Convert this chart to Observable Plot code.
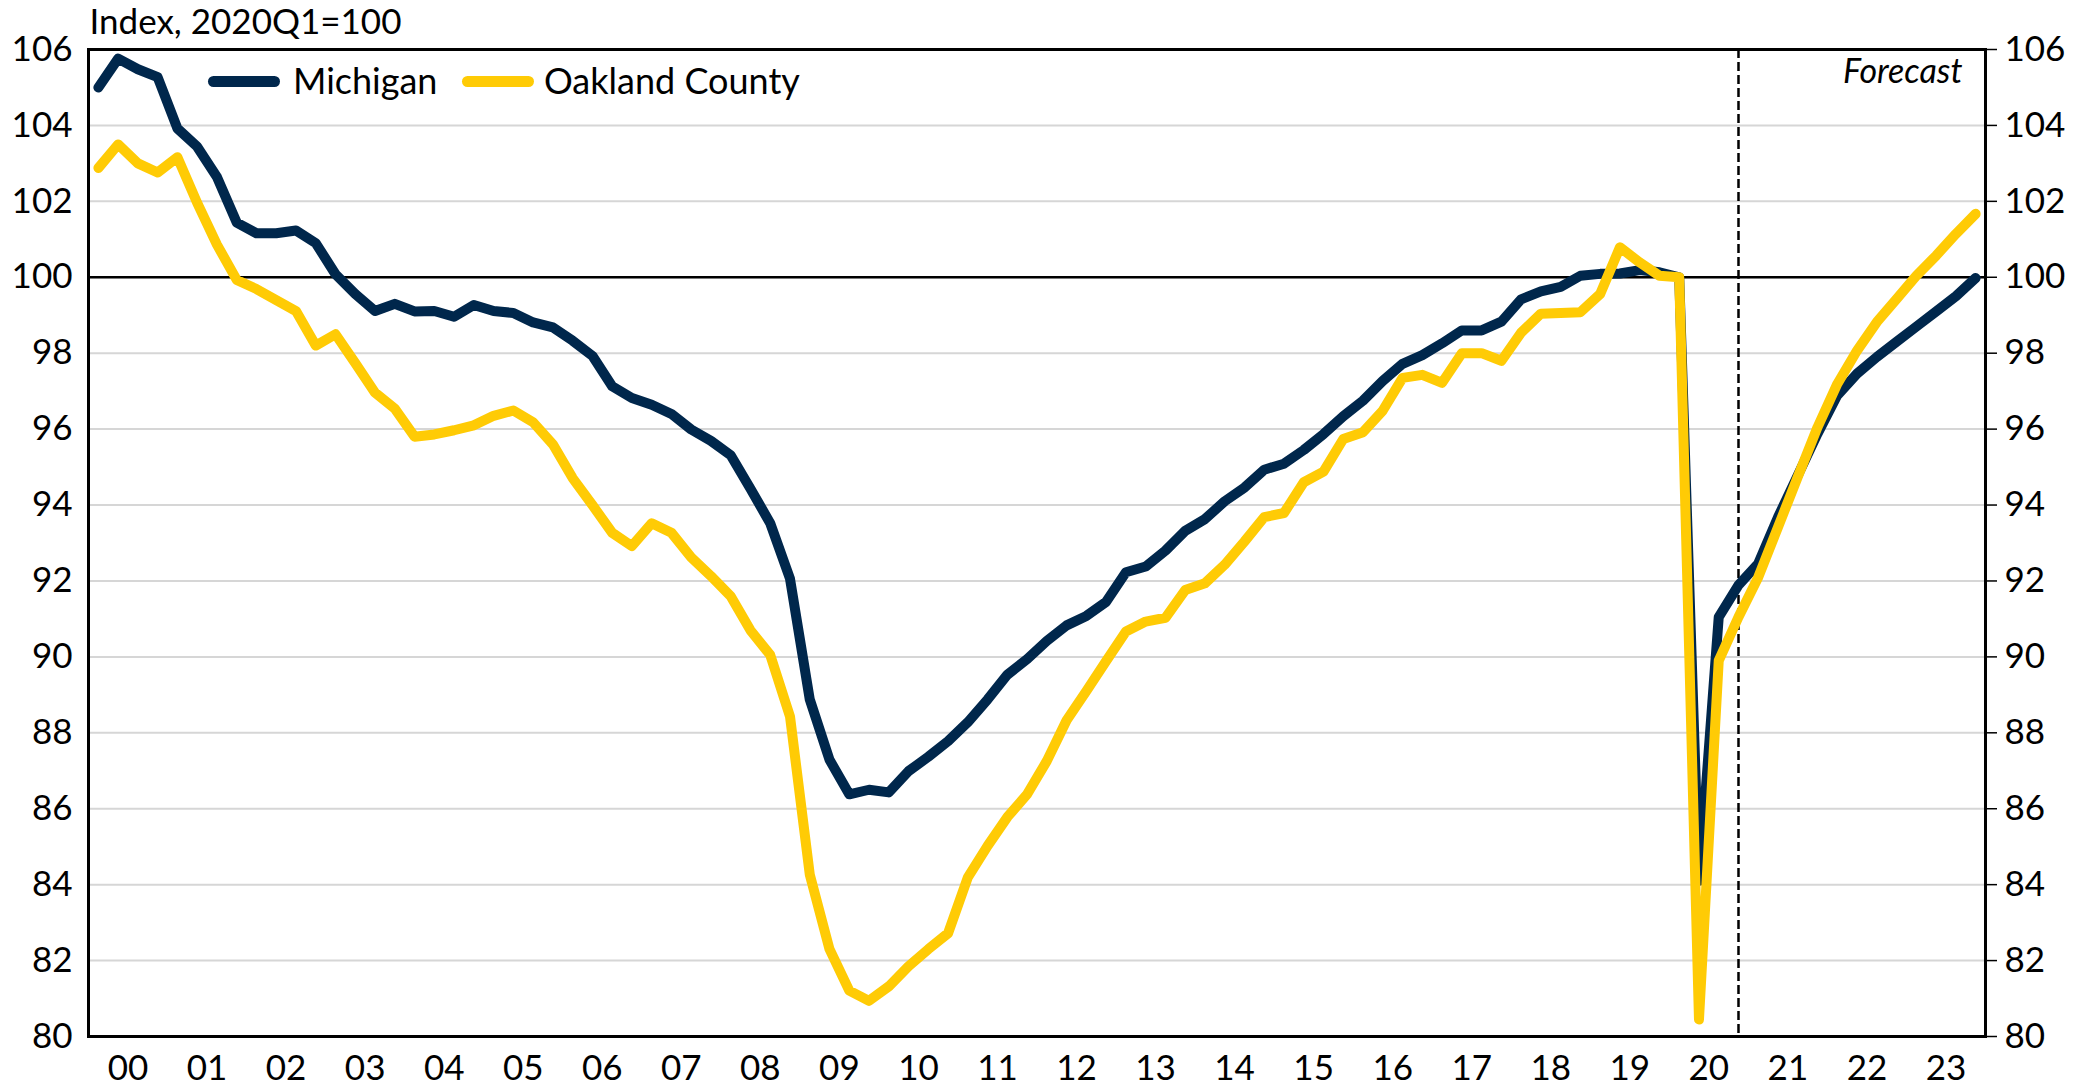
<!DOCTYPE html>
<html>
<head>
<meta charset="utf-8">
<script src="https://cdn.jsdelivr.net/npm/d3@7"></script>
<script src="https://cdn.jsdelivr.net/npm/@observablehq/plot@0.6"></script>
<style>
  html, body { margin: 0; padding: 0; background: #fff; }
  #wrap { position: relative; width: 2081px; height: 1086px; font-family: Lato, "Open Sans", sans-serif; }
  .lg { position: absolute; top: 0; font-size: 36px; color: #000; line-height: 1; }
  .sw { position: absolute; height: 11px; border-radius: 5.5px; }
</style>
</head>
<body>
<div id="wrap"></div>
<script>
// ---- data ----
const years = [2000,2001,2002,2003,2004,2005,2006,2007,2008,2009,2010,2011,2012,2013,2014,2015,2016,2017,2018,2019,2020,2021,2022,2023];
const quarterNums = [1,2,3,4];
const michigan = [
  105.0,105.76,105.48,105.27, 103.92,103.44,102.64,101.44, 101.16,101.16,101.23,100.9, 100.08,99.56,99.11,99.3,
  99.1,99.11,98.96,99.27, 99.11,99.06,98.81,98.68, 98.33,97.93,97.13,96.82, 96.64,96.4,95.99,95.69,
  95.31,94.43,93.52,92.06, 88.88,87.29,86.38,86.5, 86.43,86.99,87.37,87.78, 88.28,88.88,89.53,89.94,
  90.42,90.83,91.08,91.45, 92.23,92.38,92.8,93.32, 93.63,94.1,94.46,94.93, 95.09,95.45,95.87,96.34,
  96.75,97.27,97.72,97.95, 98.26,98.6,98.6,98.83, 99.42,99.63,99.75,100.04, 100.09,100.1,100.19,100.13,
  100.0,84.1,91.05,91.89, 92.46,93.68,94.78,95.88, 96.89,97.46,97.9,98.3, 98.7,99.1,99.5,99.98
];
const oakland = [
  102.88,103.5,103.0,102.76, 103.16,101.96,100.86,99.93, 99.69,99.4,99.11,98.2, 98.5,97.74,96.96,96.54,
  95.8,95.86,95.97,96.1, 96.35,96.49,96.18,95.6, 94.71,94.0,93.27,92.92, 93.52,93.27,92.62,92.13,
  91.6,90.7,90.05,88.43, 84.27,82.3,81.21,80.94, 81.32,81.85,82.3,82.72, 84.19,85.02,85.78,86.38,
  87.26,88.33,89.1,89.89, 90.67,90.93,91.03,91.76, 91.94,92.43,93.04,93.68, 93.79,94.6,94.88,95.74,
  95.92,96.49,97.35,97.43, 97.22,98.0,98.0,97.8, 98.54,99.04,99.06,99.08, 99.56,100.79,100.39,100.04,
  100.0,80.45,89.9,91.05, 92.1,93.42,94.74,96.05, 97.19,98.07,98.82,99.43, 100.04,100.57,101.14,101.67
];
const seriesNames = ["Michigan", "Oakland County"];
const seriesColors = ["#00274C", "#FFCB05"];
const yTicks = [80,82,84,86,88,90,92,94,96,98,100,102,104,106];
const baseline = 100;
const forecastStart = {year: 2020, q: 4};
const titleText = "Index, 2020Q1=100";
const forecastText = "Forecast";

// ---- build table ----
const qPos = (y, q) => y + (q - 0.5) / 4;
const periods = years.flatMap(y => quarterNums.map(q => ({year: y, q, t: qPos(y, q)})));
const rows = [];
[michigan, oakland].forEach((vals, s) => {
  periods.forEach((p, i) => rows.push({series: seriesNames[s], t: p.t, v: vals[i]}));
});

const W = 2081, H = 1086;
const chart = Plot.plot({
  width: W, height: H,
  marginLeft: 88, marginRight: 96, marginTop: 49, marginBottom: 50,
  style: {fontFamily: "Lato, 'Open Sans', sans-serif", fontSize: "35px", color: "#000", background: "#fff"},
  x: {domain: [years[0], years[years.length - 1] + 1]},
  y: {domain: [yTicks[0], yTicks[yTicks.length - 1]]},
  marks: [
    Plot.gridY(yTicks, {stroke: "#d6d6d6", strokeOpacity: 1, strokeWidth: 2}),
    Plot.ruleY([baseline], {stroke: "#000", strokeWidth: 2.5}),
    Plot.ruleX([qPos(forecastStart.year, forecastStart.q)], {stroke: "#000", strokeWidth: 2.5, strokeDasharray: "9,4"}),
    Plot.axisY({anchor: "left", ticks: yTicks, tickSize: 0, tickPadding: 16, label: null}),
    Plot.axisY({anchor: "right", ticks: yTicks, tickSize: 11, tickPadding: 8, strokeWidth: 1.5, label: null}),
    Plot.axisX({ticks: years.map(y => y + 0.5), tickFormat: d => String(Math.floor(d)).slice(2), tickSize: 0, tickPadding: 19, label: null}),
    Plot.line(rows.filter(d => d.series === seriesNames[0]), {x: "t", y: "v", stroke: seriesColors[0], strokeWidth: 10, strokeLinejoin: "round", strokeLinecap: "round"}),
    Plot.line(rows.filter(d => d.series === seriesNames[1]), {x: "t", y: "v", stroke: seriesColors[1], strokeWidth: 10, strokeLinejoin: "round", strokeLinecap: "round"}),
    Plot.frame({stroke: "#000", strokeWidth: 3}),
    Plot.text([titleText], {text: d => d, frameAnchor: "top-left", textAnchor: "start", lineAnchor: "bottom", dx: 1, dy: -16, fontSize: 35, fill: "#000"}),
    Plot.text([forecastText], {text: d => d, frameAnchor: "top-right", textAnchor: "end", lineAnchor: "bottom", dx: -23, dy: 33, fontSize: 34, fontStyle: "italic", fill: "#000"})
  ]
});
const wrap = document.getElementById("wrap");
wrap.appendChild(chart);

// ---- legend (HTML overlay) ----
const legendLayout = [{sw: 208, tx: 293}, {sw: 462, tx: 544}];
seriesNames.forEach((name, i) => {
  const sw = document.createElement("div");
  sw.className = "sw";
  sw.style.left = legendLayout[i].sw + "px";
  sw.style.top = "76px";
  sw.style.width = "72px";
  sw.style.background = seriesColors[i];
  wrap.appendChild(sw);
  const tx = document.createElement("div");
  tx.className = "lg";
  tx.textContent = name;
  tx.style.left = legendLayout[i].tx + "px";
  tx.style.top = "62px";
  wrap.appendChild(tx);
});
</script>
</body>
</html>
